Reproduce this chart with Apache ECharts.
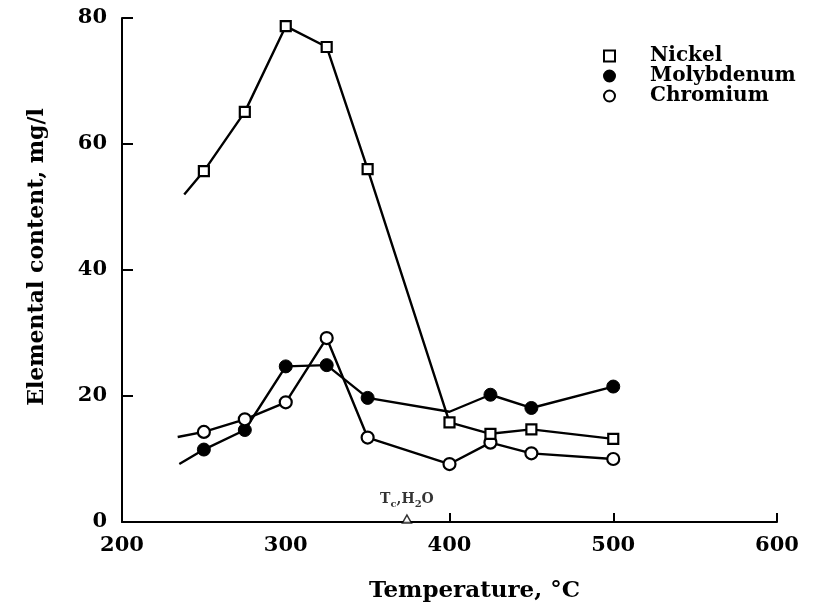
<!DOCTYPE html>
<html>
<head>
<meta charset="utf-8">
<script src="https://cdn.jsdelivr.net/npm/echarts@6/dist/echarts.min.js"></script>
<style>html,body{margin:0;padding:0;background:#fff;}#c{width:825px;height:609px;}</style>
</head>
<body>
<div id="c"></div>
<script>
// ---- data ----
var temps = [250, 275, 300, 325, 350, 400, 425, 450, 500];
var nickel = [55.7, 65.1, 78.7, 75.4, 56.0, 15.8, 14.0, 14.7, 13.2];
var molybdenum = [11.5, 14.6, 24.7, 24.9, 19.7, 17.5, 20.2, 18.1, 21.5];
var chromium = [14.3, 16.3, 19.0, 29.2, 13.4, 9.2, 12.6, 10.9, 10.0];
// start of each curve (drawn line without a marker)
var nickelStart = [238, 52];
var molybdenumStart = [235, 9.2];
var chromiumStart = [234, 13.5];
// temperatures where a marker is not drawn (hidden at junction)
var molybdenumNoMarker = [400];
var criticalTemp = 374;
var xTicks = [200, 300, 400, 500, 600];
var xTickMarks = [400, 500, 600];
var yTicks = [0, 20, 40, 60, 80];
var seriesNames = ['Nickel', 'Molybdenum', 'Chromium'];

var FONT = 'DejaVu Serif';

function build(start, vals, noMarker) {
  var out = [{value: start, symbol: 'none'}];
  for (var i = 0; i < temps.length; i++) {
    var item = {value: [temps[i], vals[i]]};
    if (noMarker && noMarker.indexOf(temps[i]) >= 0) item.symbol = 'none';
    out.push(item);
  }
  return out;
}

var chart = echarts.init(document.getElementById('c'), null, {renderer: 'canvas'});
var option = {
  animation: false,
  backgroundColor: '#fff',
  grid: {left: 122, right: 48, top: 18, bottom: 87, containLabel: false},
  legend: {
    orient: 'vertical',
    left: 598,
    top: 41,
    itemWidth: 11,
    itemHeight: 11,
    itemGap: 0,
    textStyle: {fontFamily: FONT, fontWeight: 'bold', fontSize: 20, color: '#000', padding: [0, 0, 0, 30], lineHeight: 18},
    data: [
      {name: seriesNames[0], icon: 'rect'},
      {name: seriesNames[1], icon: 'circle'},
      {name: seriesNames[2], icon: 'circle'}
    ]
  },
  xAxis: {
    type: 'value',
    min: 200, max: 600, interval: 100,
    name: 'Temperature, °C',
    nameLocation: 'middle',
    nameGap: 58,
    nameTextStyle: {fontFamily: FONT, fontWeight: 'bold', fontSize: 23, color: '#000', padding: [0, 0, 0, 50]},
    axisLine: {show: true, lineStyle: {color: '#000', width: 2}},
    axisTick: {show: true, inside: true, length: 9, lineStyle: {color: '#000', width: 2}, customValues: xTickMarks},
    axisLabel: {fontFamily: FONT, fontWeight: 'bold', fontSize: 21, color: '#000', margin: 13, customValues: xTicks},
    splitLine: {show: false}
  },
  yAxis: {
    type: 'value',
    min: 0, max: 80, interval: 20,
    name: 'Elemental content, mg/l',
    nameLocation: 'middle',
    nameGap: 74,
    nameTextStyle: {fontFamily: FONT, fontWeight: 'bold', fontSize: 22, color: '#000', padding: [0, 0, 0, 26]},
    axisLine: {show: true, lineStyle: {color: '#000', width: 2}},
    axisTick: {show: true, inside: true, length: 11, lineStyle: {color: '#000', width: 2}, customValues: yTicks},
    axisLabel: {fontFamily: FONT, fontWeight: 'bold', fontSize: 21, color: '#000', margin: 15, customValues: yTicks},
    splitLine: {show: false}
  },
  series: [
    {
      name: seriesNames[0], type: 'line', z: 3,
      data: build(nickelStart, nickel),
      symbol: 'rect', symbolSize: 10,
      lineStyle: {color: '#000', width: 2.4},
      itemStyle: {color: '#fff', borderColor: '#000', borderWidth: 2.2}
    },
    {
      name: seriesNames[1], type: 'line', z: 2,
      data: build(molybdenumStart, molybdenum, molybdenumNoMarker),
      symbol: 'circle', symbolSize: 13,
      lineStyle: {color: '#000', width: 2.4},
      itemStyle: {color: '#000', borderColor: '#000', borderWidth: 1}
    },
    {
      name: seriesNames[2], type: 'line', z: 2,
      data: build(chromiumStart, chromium),
      symbol: 'circle', symbolSize: 12,
      lineStyle: {color: '#000', width: 2.4},
      itemStyle: {color: '#fff', borderColor: '#000', borderWidth: 2.2}
    },
    {
      name: 'Tc', type: 'scatter', z: 4,
      data: [[criticalTemp, 0]],
      symbol: 'triangle', symbolSize: [9, 8], symbolOffset: [0, -3],
      itemStyle: {color: '#fff', borderColor: '#000', borderWidth: 1.5},
      label: {
        show: true, position: 'top', distance: 5,
        formatter: '{t|T}{s|c}{t|,H}{s|2}{t|O}',
        rich: {
          t: {fontFamily: FONT, fontWeight: 'bold', fontSize: 14, color: '#000', lineHeight: 17, verticalAlign: 'top'},
          s: {fontFamily: FONT, fontWeight: 'bold', fontSize: 10, color: '#000', lineHeight: 10, verticalAlign: 'bottom'}
        }
      }
    }
  ]
};
chart.setOption(option);
</script>
</body>
</html>
